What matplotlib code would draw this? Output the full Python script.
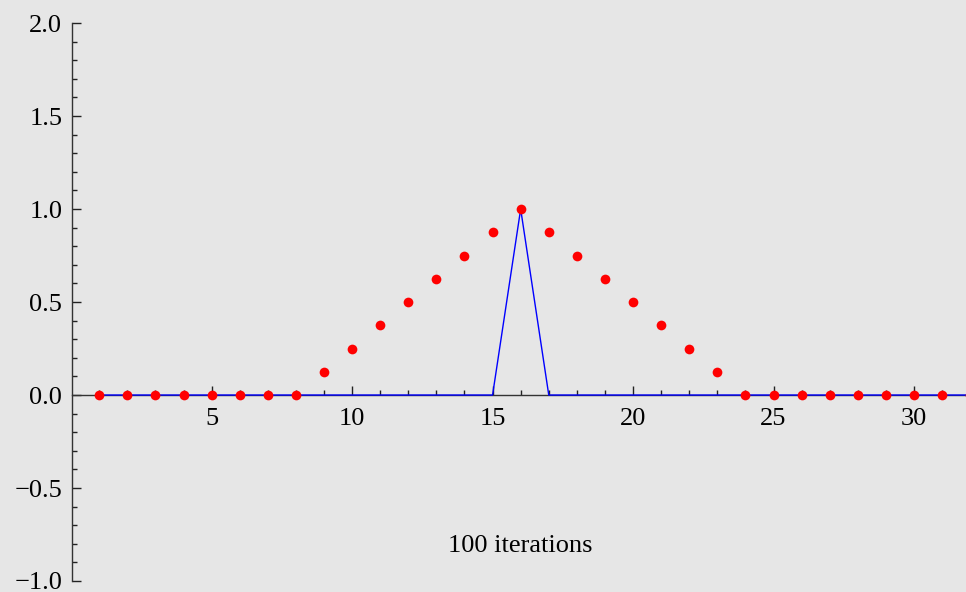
import matplotlib
matplotlib.use("Agg")
import matplotlib.pyplot as plt
from matplotlib.ticker import MultipleLocator, FixedLocator

# Sample index and the two sequences after 100 iterations
n = list(range(1, 33))
spike = [0, 0, 0, 0, 0, 0, 0, 0, 0, 0, 0, 0, 0, 0, 0, 1,
         0, 0, 0, 0, 0, 0, 0, 0, 0, 0, 0, 0, 0, 0, 0, 0]
tent = [0, 0, 0, 0, 0, 0, 0, 0, 0.125, 0.25, 0.375, 0.5, 0.625, 0.75, 0.875, 1.0,
        0.875, 0.75, 0.625, 0.5, 0.375, 0.25, 0.125, 0, 0, 0, 0, 0, 0, 0, 0, 0]
y_ticks = [-1.0, -0.5, 0.0, 0.5, 1.0, 1.5, 2.0]
x_ticks = [5, 10, 15, 20, 25, 30]
caption = "100 iterations"

plt.rcParams["font.family"] = ["Liberation Serif", "DejaVu Serif"]
bg = "#e6e6e6"
fig = plt.figure(figsize=(9.66, 5.92), dpi=100, facecolor=bg)
ax = fig.add_axes([0.0745, 0.0186, 1 - 0.0745, 0.961 - 0.0186])
ax.set_facecolor(bg)

ax.plot(n, spike, color="#0000ff", lw=1.0, zorder=3)
ax.plot(n, tent, "o", color="#ff0000", ms=7, mec="none", zorder=4)

ax.set_xlim(0.03, 31.85)
ax.set_ylim(-1.0, 2.0)

for s in ["top", "right"]:
    ax.spines[s].set_visible(False)
ax.spines["bottom"].set_position(("data", 0))
ax.spines["left"].set_position(("data", 0.03))
ax.spines["left"].set_bounds(-1.0, 2.0)
for s in ["bottom", "left"]:
    ax.spines[s].set_color("#333333")
    ax.spines[s].set_linewidth(1.0)
    ax.spines[s].set_zorder(2)

ax.xaxis.set_major_locator(FixedLocator(x_ticks))
ax.xaxis.set_minor_locator(MultipleLocator(1))
ax.yaxis.set_major_locator(FixedLocator(y_ticks))
ax.yaxis.set_minor_locator(MultipleLocator(0.1))
ax.set_yticklabels([f"{v:.1f}".replace("-", "\u2212") for v in y_ticks])

ax.tick_params(which="both", direction="in", color="#222222", width=1.0,
               labelsize=19, top=False, right=False)
ax.tick_params(which="major", length=6.5)
ax.tick_params(which="minor", length=3.8)
ax.tick_params(axis="x", which="major", pad=9)
ax.tick_params(axis="y", which="major", pad=7)

ax.text(16, -0.81, caption, ha="center", va="center", fontsize=19)

fig.savefig("out.png", dpi=100, facecolor=bg)
